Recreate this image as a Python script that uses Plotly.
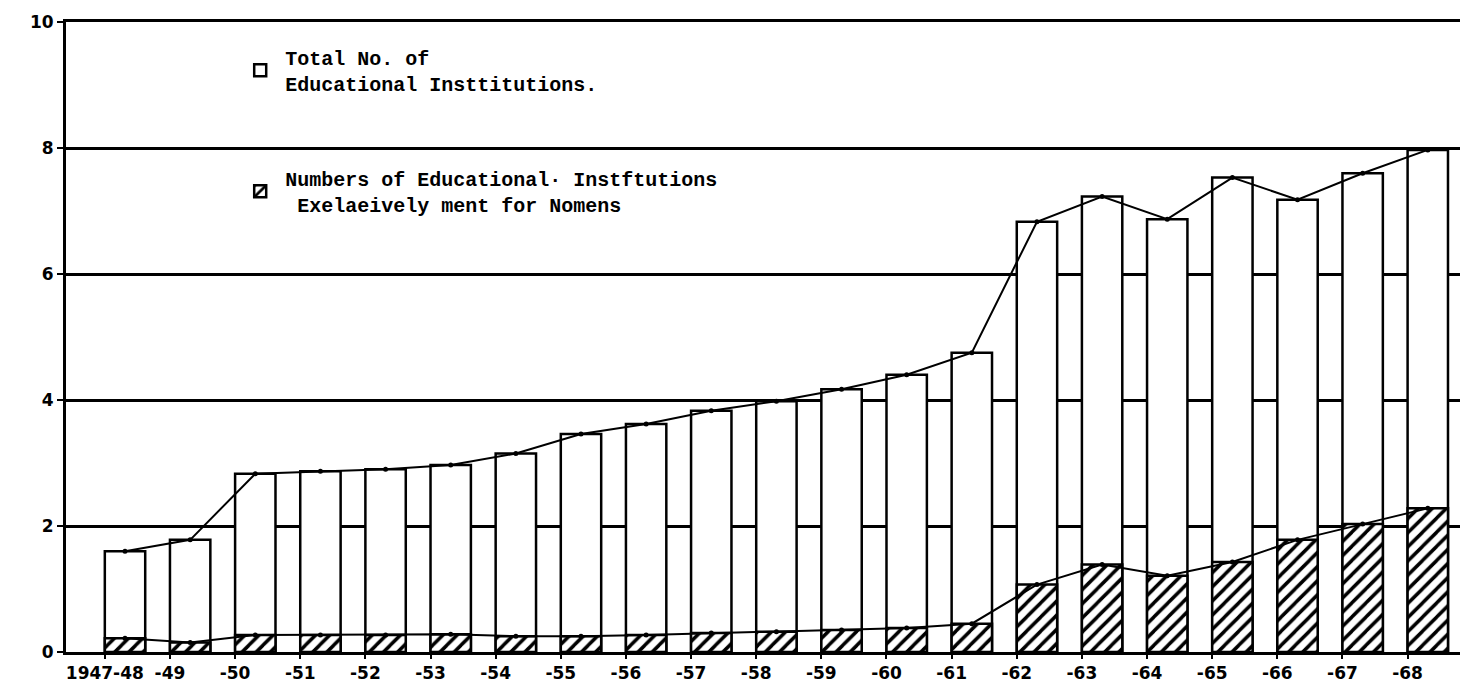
import plotly.graph_objects as go

years = ["1947-48", "-49", "-50", "-51", "-52", "-53", "-54", "-55", "-56", "-57",
         "-58", "-59", "-60", "-61", "-62", "-63", "-64", "-65", "-66", "-67", "-68"]
total = [1.6, 1.78, 2.83, 2.87, 2.9, 2.97, 3.15, 3.46, 3.62, 3.83,
         3.98, 4.17, 4.4, 4.75, 6.83, 7.23, 6.87, 7.53, 7.18, 7.6, 7.97]
women = [0.22, 0.15, 0.27, 0.27, 0.27, 0.28, 0.25, 0.25, 0.27, 0.3,
         0.32, 0.35, 0.38, 0.45, 1.07, 1.39, 1.21, 1.43, 1.78, 2.03, 2.28]
y_ticks = [0, 2, 4, 6, 8, 10]

idx = list(range(len(years)))
BAR_W = 0.62
label_pos = [i - BAR_W / 2 for i in idx]

fig = go.Figure()
fig.add_trace(go.Bar(
    x=idx, y=total, width=BAR_W,
    marker=dict(color="white", line=dict(color="black", width=2.5)),
    name="Total No. of<br>Educational Insttitutions.",
    legendgroup="a",
))
fig.add_trace(go.Bar(
    x=idx, y=women, width=BAR_W,
    marker=dict(color="white", line=dict(color="black", width=2.5),
                pattern=dict(shape="/", fgcolor="black", bgcolor="white",
                             fgopacity=1, size=10, solidity=0.35)),
    name="Numbers of Educational· Instftutions<br> Exelaeively ment for Nomens",
    legendgroup="b",
))
fig.add_trace(go.Scatter(
    x=idx, y=total, mode="lines+markers",
    line=dict(color="black", width=2), marker=dict(color="black", size=5),
    showlegend=False, hoverinfo="skip",
))
fig.add_trace(go.Scatter(
    x=idx, y=women, mode="lines+markers",
    line=dict(color="black", width=2), marker=dict(color="black", size=5),
    showlegend=False, hoverinfo="skip",
))

fig.update_layout(
    width=1468, height=684,
    margin=dict(l=58, r=0, t=14, b=40),
    paper_bgcolor="white", plot_bgcolor="white",
    barmode="overlay",
    showlegend=True,
    legend=dict(
        x=0.12, y=0.975, xanchor="left", yanchor="top",
        bgcolor="rgba(0,0,0,0)",
        font=dict(family="Liberation Mono", size=20, color="black", weight="bold"),
        tracegroupgap=66,
        itemwidth=40,
    ),
    xaxis=dict(
        range=[-0.906, 20.74],
        tickmode="array", tickvals=label_pos, ticktext=years,
        showgrid=False, zeroline=False,
        showline=True, mirror=True, linecolor="black", linewidth=3,
        ticks="outside", ticklen=4, tickwidth=2, tickcolor="black",
        tickfont=dict(family="DejaVu Sans", size=17, color="black", weight="bold"),
    ),
    yaxis=dict(
        range=[0, 10],
        tickmode="array", tickvals=y_ticks, ticktext=[str(v) for v in y_ticks],
        showgrid=True, gridcolor="black", gridwidth=3,
        zeroline=False,
        showline=True, linecolor="black", linewidth=3,
        ticks="outside", ticklen=6, tickwidth=2, tickcolor="black",
        tickfont=dict(family="DejaVu Sans", size=17, color="black", weight="bold"),
    ),
)

fig.write_html("out.html")
